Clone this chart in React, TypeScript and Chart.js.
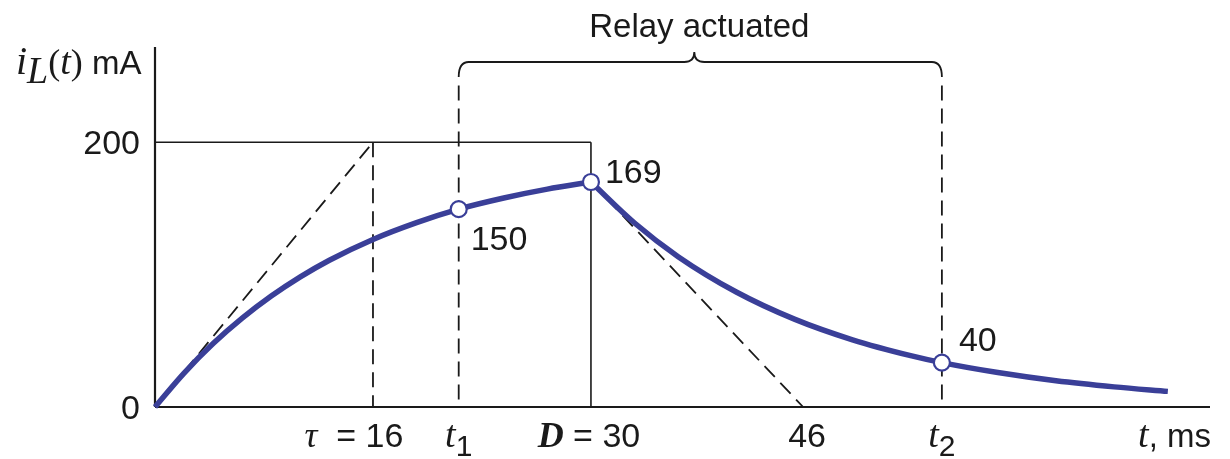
import { useEffect, useRef } from "react";
import { Chart, registerables } from "chart.js";

Chart.register(...registerables);

// time axis in drawing units (ms, figure not to scale)
const riseT = [0, 2, 4, 6, 8, 10, 12, 15, 18, 20.9, 24, 27, 30];
const riseI = [0, 25.6, 47.9, 67.1, 83.8, 98.3, 110.9, 126.6, 139.3, 149.5, 157.9, 164.6, 170];
const decayT = [30, 33, 36, 40, 44, 48, 52, 54.15, 58, 62, 66, 69.7];
const decayI = [170, 139, 113.6, 86.9, 66.4, 50.8, 38.8, 33.5, 26, 19.8, 15.2, 11.8];

const tau = 15;
const t1 = 20.9;
const D = 30;
const tZero = 44.6;
const t2 = 54.15;
const markT = [t1, D, t2];
const markI = [149.5, 170, 33.5];
const markLabels = ["150", "169", "40"];
const xMax = 72.6;
const yMax = 272;
const iMax = 200;
const dashTop = 243;

const BLUE = "rgb(58,63,152)";
const INK = "#1a1a1a";
const SANS = "'Liberation Sans', Arial, sans-serif";
const SERIF = "'Liberation Serif', 'Times New Roman', serif";

type Run = { text: string; font: string; dy?: number };

function drawRuns(ctx: CanvasRenderingContext2D, runs: Run[], x: number, y: number, align: "left" | "center" | "right") {
  let total = 0;
  for (const r of runs) {
    ctx.font = r.font;
    total += ctx.measureText(r.text).width;
  }
  let cx = align === "left" ? x : align === "center" ? x - total / 2 : x - total;
  ctx.textBaseline = "alphabetic";
  ctx.textAlign = "left";
  for (const r of runs) {
    ctx.font = r.font;
    ctx.fillText(r.text, cx, y + (r.dy || 0));
    cx += ctx.measureText(r.text).width;
  }
}

const annotations = {
  id: "annotations",
  afterDatasetsDraw(chart: any) {
    const ctx: CanvasRenderingContext2D = chart.ctx;
    const xs = chart.scales.x;
    const ys = chart.scales.y;
    const px = (v: number) => xs.getPixelForValue(v);
    const py = (v: number) => ys.getPixelForValue(v);
    ctx.save();
    ctx.fillStyle = INK;
    ctx.strokeStyle = INK;

    // brace
    const x1 = px(t1);
    const x2 = px(t2);
    const mid = (x1 + x2) / 2 - 6;
    const yh = 62, yt = 52, yb = 77, r = 10;
    ctx.lineWidth = 1.8;
    ctx.beginPath();
    ctx.moveTo(x1, yb);
    ctx.quadraticCurveTo(x1, yh, x1 + r, yh);
    ctx.lineTo(mid - r, yh);
    ctx.quadraticCurveTo(mid, yh, mid, yt);
    ctx.quadraticCurveTo(mid, yh, mid + r, yh);
    ctx.lineTo(x2 - r, yh);
    ctx.quadraticCurveTo(x2, yh, x2, yb);
    ctx.stroke();

    drawRuns(ctx, [{ text: "Relay actuated", font: `33px ${SANS}` }], mid + 5, 37, "center");

    // y axis title
    drawRuns(
      ctx,
      [
        { text: "i", font: `italic 40px ${SERIF}` },
        { text: "L", font: `italic 38px ${SERIF}`, dy: 9 },
        { text: "(", font: `36px ${SERIF}` },
        { text: "t", font: `italic 38px ${SERIF}` },
        { text: ")", font: `36px ${SERIF}` },
        { text: " mA", font: `33px ${SANS}` },
      ],
      16,
      74,
      "left"
    );

    // y tick labels
    drawRuns(ctx, [{ text: "200", font: `34px ${SANS}` }], px(0) - 15, py(iMax) + 12, "right");
    drawRuns(ctx, [{ text: "0", font: `34px ${SANS}` }], px(0) - 15, py(0) + 12, "right");

    // x labels
    const base = py(0) + 40;
    drawRuns(
      ctx,
      [
        { text: "τ", font: `italic 36px ${SERIF}` },
        { text: "  = 16", font: `34px ${SANS}` },
      ],
      px(tau) - 19,
      base,
      "center"
    );
    drawRuns(
      ctx,
      [
        { text: "t", font: `italic 38px ${SERIF}` },
        { text: "1", font: `30px ${SANS}`, dy: 9 },
      ],
      px(t1),
      base,
      "center"
    );
    drawRuns(
      ctx,
      [
        { text: "D", font: `italic bold 36px ${SERIF}` },
        { text: " = 30", font: `34px ${SANS}` },
      ],
      px(D) - 2,
      base,
      "center"
    );
    drawRuns(ctx, [{ text: "46", font: `34px ${SANS}` }], px(tZero) + 4, base, "center");
    drawRuns(
      ctx,
      [
        { text: "t", font: `italic 38px ${SERIF}` },
        { text: "2", font: `30px ${SANS}`, dy: 9 },
      ],
      px(t2),
      base,
      "center"
    );
    drawRuns(
      ctx,
      [
        { text: "t", font: `italic 38px ${SERIF}` },
        { text: ", ms", font: `33px ${SANS}` },
      ],
      1211,
      base,
      "right"
    );

    // point labels
    drawRuns(ctx, [{ text: markLabels[0], font: `34px ${SANS}` }], px(markT[0]) + 12, py(markI[0]) + 41, "left");
    drawRuns(ctx, [{ text: markLabels[1], font: `34px ${SANS}` }], px(markT[1]) + 14, py(markI[1]) + 1, "left");
    drawRuns(ctx, [{ text: markLabels[2], font: `34px ${SANS}` }], px(markT[2]) + 17, py(markI[2]) - 12, "left");

    ctx.restore();
  },
};

function seg(a: [number, number], b: [number, number]) {
  return [
    { x: a[0], y: a[1] },
    { x: b[0], y: b[1] },
  ];
}

export default function App() {
  const ref = useRef<HTMLCanvasElement>(null);
  useEffect(() => {
    document.body.style.margin = "0";
    const curveDs = (ts: number[], vs: number[]) => ({
      data: ts.map((t, i) => ({ x: t, y: vs[i] })),
      borderColor: BLUE,
      borderWidth: 5.5,
      pointRadius: 0,
      cubicInterpolationMode: "monotone",
      fill: false,
      clip: false as any,
      order: 1,
    });
    const lineDs = (data: any[], dashed: boolean, width: number, order: number) => ({
      data,
      borderColor: INK,
      borderWidth: width,
      borderDash: dashed ? [15, 8] : [],
      pointRadius: 0,
      fill: false,
      tension: 0,
      clip: false as any,
      order,
    });
    const chart = new Chart(ref.current!, {
      type: "line",
      data: {
        datasets: [
          {
            data: markT.map((t, i) => ({ x: t, y: markI[i] })),
            showLine: false,
            pointRadius: 8,
            pointBorderWidth: 2.2,
            pointBackgroundColor: "#ffffff",
            pointBorderColor: BLUE,
            clip: false as any,
            order: 0,
          },
          curveDs(riseT, riseI),
          curveDs(decayT, decayI),
          lineDs(seg([0, 0], [xMax, 0]), false, 2.2, 2),
          lineDs(seg([0, 0], [0, yMax]), false, 2.2, 2),
          lineDs(seg([0, iMax], [D, iMax]), false, 1.6, 3),
          lineDs(seg([D, iMax], [D, 0]), false, 1.6, 3),
          lineDs(seg([tau, iMax], [tau, 0]), true, 1.8, 3),
          lineDs(seg([0, 0], [tau, iMax]), true, 1.8, 3),
          lineDs(seg([D, markI[1]], [tZero, 0]), true, 1.8, 3),
          lineDs(seg([t1, dashTop], [t1, 0]), true, 1.8, 3),
          lineDs(seg([t2, dashTop], [t2, 0]), true, 1.8, 3),
        ] as any,
      },
      options: {
        animation: false,
        responsive: false,
        layout: { padding: { left: 155, right: 20, top: 47, bottom: 52 } },
        scales: {
          x: { type: "linear", min: 0, max: xMax, display: false },
          y: { type: "linear", min: 0, max: yMax, display: false },
        },
        plugins: { legend: { display: false }, tooltip: { enabled: false } },
        events: [],
      },
      plugins: [annotations],
    });
    return () => chart.destroy();
  }, []);
  return (
    <div style={{ position: "fixed", left: 0, top: 0, width: 1230, height: 459, background: "#fff" }}>
      <canvas ref={ref} width={1230} height={459} />
    </div>
  );
}
